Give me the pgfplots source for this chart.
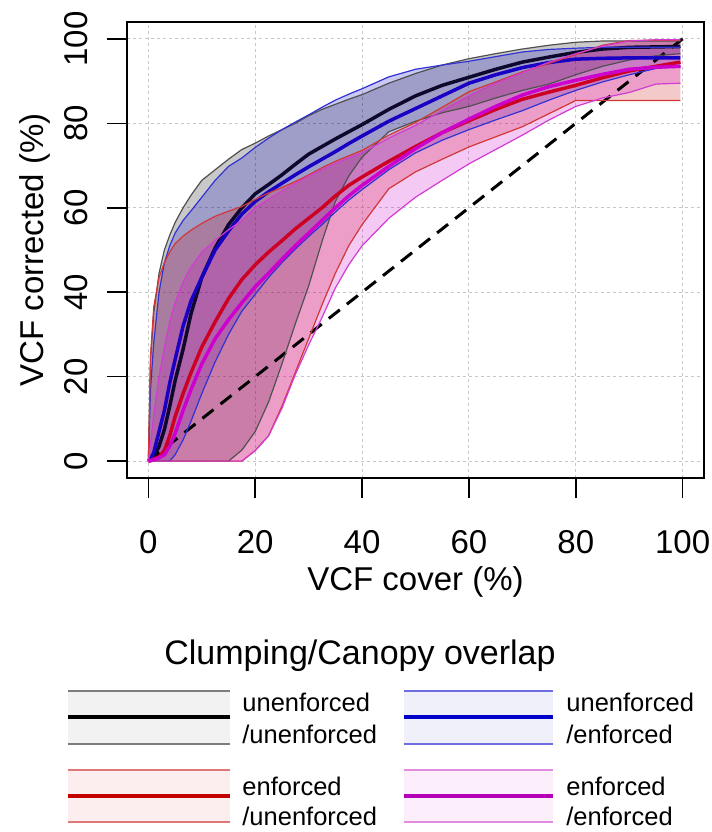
\documentclass[border=0pt]{standalone}
\usepackage{fontspec}
\setmainfont{Liberation Sans}
\usepackage{pgfplots}
\pgfplotsset{compat=1.18}
\usepackage{pgfplotstable}
\usepgfplotslibrary{fillbetween}

\definecolor{uuline}{RGB}{80,80,80}
\definecolor{ueline}{RGB}{50,50,210}
\definecolor{euline}{RGB}{210,55,55}
\definecolor{eeline}{RGB}{210,60,210}
\definecolor{uufill}{RGB}{0,0,0}
\definecolor{uefill}{RGB}{0,0,205}
\definecolor{eufill}{RGB}{205,0,0}
\definecolor{eefill}{RGB}{205,0,205}
\definecolor{uumed}{RGB}{15,8,45}
\definecolor{uemed}{RGB}{25,0,195}
\definecolor{eumed}{RGB}{205,0,35}
\definecolor{eemed}{RGB}{205,0,205}
% legend colours
\definecolor{lguu}{RGB}{242,242,242}
\definecolor{lgue}{RGB}{240,240,250}
\definecolor{lgeu}{RGB}{252,238,238}
\definecolor{lgee}{RGB}{252,238,250}
\definecolor{lluu}{RGB}{125,125,125}
\definecolor{llue}{RGB}{110,110,225}
\definecolor{lleu}{RGB}{225,120,120}
\definecolor{llee}{RGB}{225,140,225}
\definecolor{lmue}{RGB}{0,0,200}
\definecolor{lmeu}{RGB}{195,0,0}
\definecolor{lmee}{RGB}{180,0,185}

% clumping unenforced / overlap unenforced
\pgfplotstableread{
x lo med hi
0 0 0 0
0.4 0 0.3 24
1 0 1 35
2 0 3.5 44.5
3 0 7.5 50
4 0 13 53.5
5 0 19 56.5
6.5 0 26.5 60
8 0 35 63
10 0 43.5 66.5
12.5 0 50.5 69
15 0 56 71.5
17.5 2.6 60 73.8
20 7 63.3 75.3
22.5 14 65.5 77
25 23 67.8 78.5
27.5 32.5 70.3 80
30 41.5 72.7 81.8
32.5 52 74.5 83.3
35 61.5 76.3 84.5
37.5 67.5 78 85.7
40 72 79.7 86.8
45 78 83.3 89.5
50 80.5 86.5 91.8
55 82.5 89 93.8
60 84 90.9 95.3
65 86 92.8 96.5
70 87.8 94.5 97.6
75 89.3 95.7 98.5
80 91.5 96.8 99.2
85 93.5 97.6 99.5
90 95 98 99.5
95 96 98.1 99.5
99.6 96.5 98.2 99.5
}\uu

% unenforced / enforced
\pgfplotstableread{
x lo med hi
0 0 0 0
0.4 0 0.5 17
1 0 2 28
2 0 7 40
3 0 12 47
4 0 18.5 51
5 1.5 24 54
6.5 5 32 57
8 9.5 38 59.3
10 16 43.5 62.5
12.5 23.5 50 66.5
15 30 54.5 69.8
17.5 35.5 58.5 71.8
20 39.5 61.5 74.3
22.5 43.5 63.8 76.5
25 47 65.8 78.5
27.5 50.2 67.8 80.3
30 53.2 69.7 82
32.5 56 71.5 83.8
35 59 73.3 85.5
37.5 61.8 75.2 86.9
40 64.3 77 88.2
45 69 80.5 91
50 73 83.5 92.8
55 76 86.5 93.8
60 78.5 89.5 94.7
65 80.8 91.5 95.8
70 83 93.2 96.9
75 85.5 94.4 97.5
80 87.8 95.2 97.8
85 89.8 95.4 98
90 91.5 95.5 98
95 93 95.5 98
99.6 93.5 95.5 98
}\ue

% enforced / unenforced
\pgfplotstableread{
x lo med hi
0 0 0 0
0.4 0 0.1 24.8
1 0 0.5 36.5
2 0 1 43.5
3 0 2.5 47
4 0 6 49.5
5 0 10.5 51.5
6.5 0 16 53.3
8 0 21 54.7
10 0 27 56.3
12.5 0 33 58
15 0 38.5 59.2
17.5 0 43 60.3
20 2.5 46.5 62
22.5 6 49.5 63.5
25 13 52.2 64.8
27.5 21 55 66.2
30 29 57.5 67.8
32.5 37 60 69.5
35 44.5 62.8 71
37.5 51 65.3 72.3
40 56 67.3 73.6
45 64.5 71 77.2
50 68.5 74.5 80.2
55 71.5 77.8 83.8
60 74.4 80.6 87.5
65 76.8 83.3 89.8
70 79.2 85.7 92.2
75 82.3 87.4 94.2
80 85.4 89 96.3
85 85.4 90.8 98.5
90 85.4 92.4 99.6
95 85.4 93.5 99.7
99.6 85.4 94.5 99.7
}\eu

% enforced / enforced
\pgfplotstableread{
x lo med hi
0 0 0 0
0.4 0 0.1 4
1 0 0.3 11
2 0 0.8 20
3 0 1.5 27
4 0 3.5 33
5 0 6.5 37.5
6.5 0 12 42.5
8 0 17 46
10 0 23 49.5
12.5 0 29 52.3
15 0 33.5 54.8
17.5 0 37.5 57
20 2.5 41.3 60
22.5 6 44.5 62
25 12.5 47.8 64
27.5 20.5 51 65.8
30 27.5 54 67.5
32.5 34 57 69
35 41 60 70.5
37.5 46.5 62.8 71.8
40 51 65.3 73
45 57.5 69.8 76.5
50 62.5 74 79.5
55 66.5 77.8 83
60 70.4 81 86.5
65 73.8 84 89.5
70 77.2 86.7 92
75 80.8 88.7 94.5
80 84 90.2 96.5
85 86 91.6 98.3
90 87.3 92.8 99.5
95 89.3 93.3 99.8
99.6 89.5 93.5 99.8
}\ee

\begin{document}
\begin{tikzpicture}
\begin{axis}[
    at={(63.5pt,177pt)}, anchor=south west,
    scale only axis, width=288.5pt, height=228pt,
    xmin=-4, xmax=104, ymin=-4, ymax=104,
    xtick={0,20,...,100}, ytick={0,20,...,100},
    tick align=outside, xtick pos=left, ytick pos=left,
    major tick length=10pt,
    every tick/.style={black, line width=0.75pt},
    axis line style={line width=0.75pt},
    grid=major,
    grid style={line width=0.5pt, color=black!22, dash pattern=on 1.3pt off 1.7pt},
    /pgf/number format/assume math mode=true,
    tick label style={font=\fontsize{16.5}{19.8}\selectfont, inner sep=0pt},
    xticklabel style={anchor=base, yshift=-27.5pt},
    yticklabel style={rotate=90, anchor=base, yshift=9.5pt},
    label style={font=\fontsize{16.5}{19.8}\selectfont, inner sep=0pt},
    xlabel={VCF cover (\%)},
    ylabel={VCF corrected (\%)},
    xlabel style={at={(axis description cs:0.5,0)}, anchor=base, yshift=-56pt},
    ylabel style={at={(axis description cs:0,0.5)}, anchor=base, yshift=41.5pt},
]
\addplot[black, line width=1.5pt, dash pattern=on 7pt off 4.5pt] coordinates {(0,0) (100,100)};

\addplot[draw=uuline, line width=0.6pt, name path=uuhi] table[x=x,y=hi]{\uu};
\addplot[draw=uuline, line width=0.6pt, name path=uulo] table[x=x,y=lo]{\uu};
\addplot[fill=uufill, fill opacity=0.21, draw=none] fill between[of=uuhi and uulo];
\addplot[draw=uumed, line width=1.75pt] table[x=x,y=med]{\uu};

\addplot[draw=ueline, line width=0.6pt, name path=uehi] table[x=x,y=hi]{\ue};
\addplot[draw=ueline, line width=0.6pt, name path=uelo] table[x=x,y=lo]{\ue};
\addplot[fill=uefill, fill opacity=0.21, draw=none] fill between[of=uehi and uelo];
\addplot[draw=uemed, line width=1.75pt] table[x=x,y=med]{\ue};

\addplot[draw=euline, line width=0.6pt, name path=euhi] table[x=x,y=hi]{\eu};
\addplot[draw=euline, line width=0.6pt, name path=eulo] table[x=x,y=lo]{\eu};
\addplot[fill=eufill, fill opacity=0.21, draw=none] fill between[of=euhi and eulo];
\addplot[draw=eumed, line width=1.75pt] table[x=x,y=med]{\eu};

\addplot[draw=eeline, line width=0.6pt, name path=eehi] table[x=x,y=hi]{\ee};
\addplot[draw=eeline, line width=0.6pt, name path=eelo] table[x=x,y=lo]{\ee};
\addplot[fill=eefill, fill opacity=0.21, draw=none] fill between[of=eehi and eelo];
\addplot[draw=eemed, line width=1.75pt] table[x=x,y=med]{\ee};
\end{axis}

\begin{scope}[shift={(0pt,416pt)}, x=0.5pt, y=-0.5pt]
\node[font=\fontsize{17}{20}\selectfont, anchor=base, inner sep=0pt] at (360,665) {Clumping/Canopy overlap};
% row 1
\fill[lguu] (68,691) rectangle (230,744);
\draw[lluu, line width=1pt] (68,691) -- (230,691) (68,744) -- (230,744);
\draw[black, line width=2pt] (68,717) -- (230,717);
\fill[lgue] (404,691) rectangle (553,744);
\draw[llue, line width=1pt] (404,691) -- (553,691) (404,744) -- (553,744);
\draw[lmue, line width=2pt] (404,717) -- (553,717);
% row 2
\fill[lgeu] (68,770) rectangle (230,822);
\draw[lleu, line width=1pt] (68,770) -- (230,770) (68,822) -- (230,822);
\draw[lmeu, line width=2pt] (68,796) -- (230,796);
\fill[lgee] (404,770) rectangle (553,822);
\draw[llee, line width=1pt] (404,770) -- (553,770) (404,822) -- (553,822);
\draw[lmee, line width=2pt] (404,796) -- (553,796);
\begin{scope}[every node/.style={font=\fontsize{12.75}{15}\selectfont, anchor=base west, inner sep=0pt}]
\node at (242,712) {unenforced};
\node at (242,743) {/unenforced};
\node at (566,712) {unenforced};
\node at (566,743) {/enforced};
\node at (242,795) {enforced};
\node at (242,826) {/unenforced};
\node at (566,795) {enforced};
\node at (566,826) {/enforced};
\end{scope}
\end{scope}
\path[use as bounding box] (0,0) rectangle (356pt,416pt);
\end{tikzpicture}
\end{document}
